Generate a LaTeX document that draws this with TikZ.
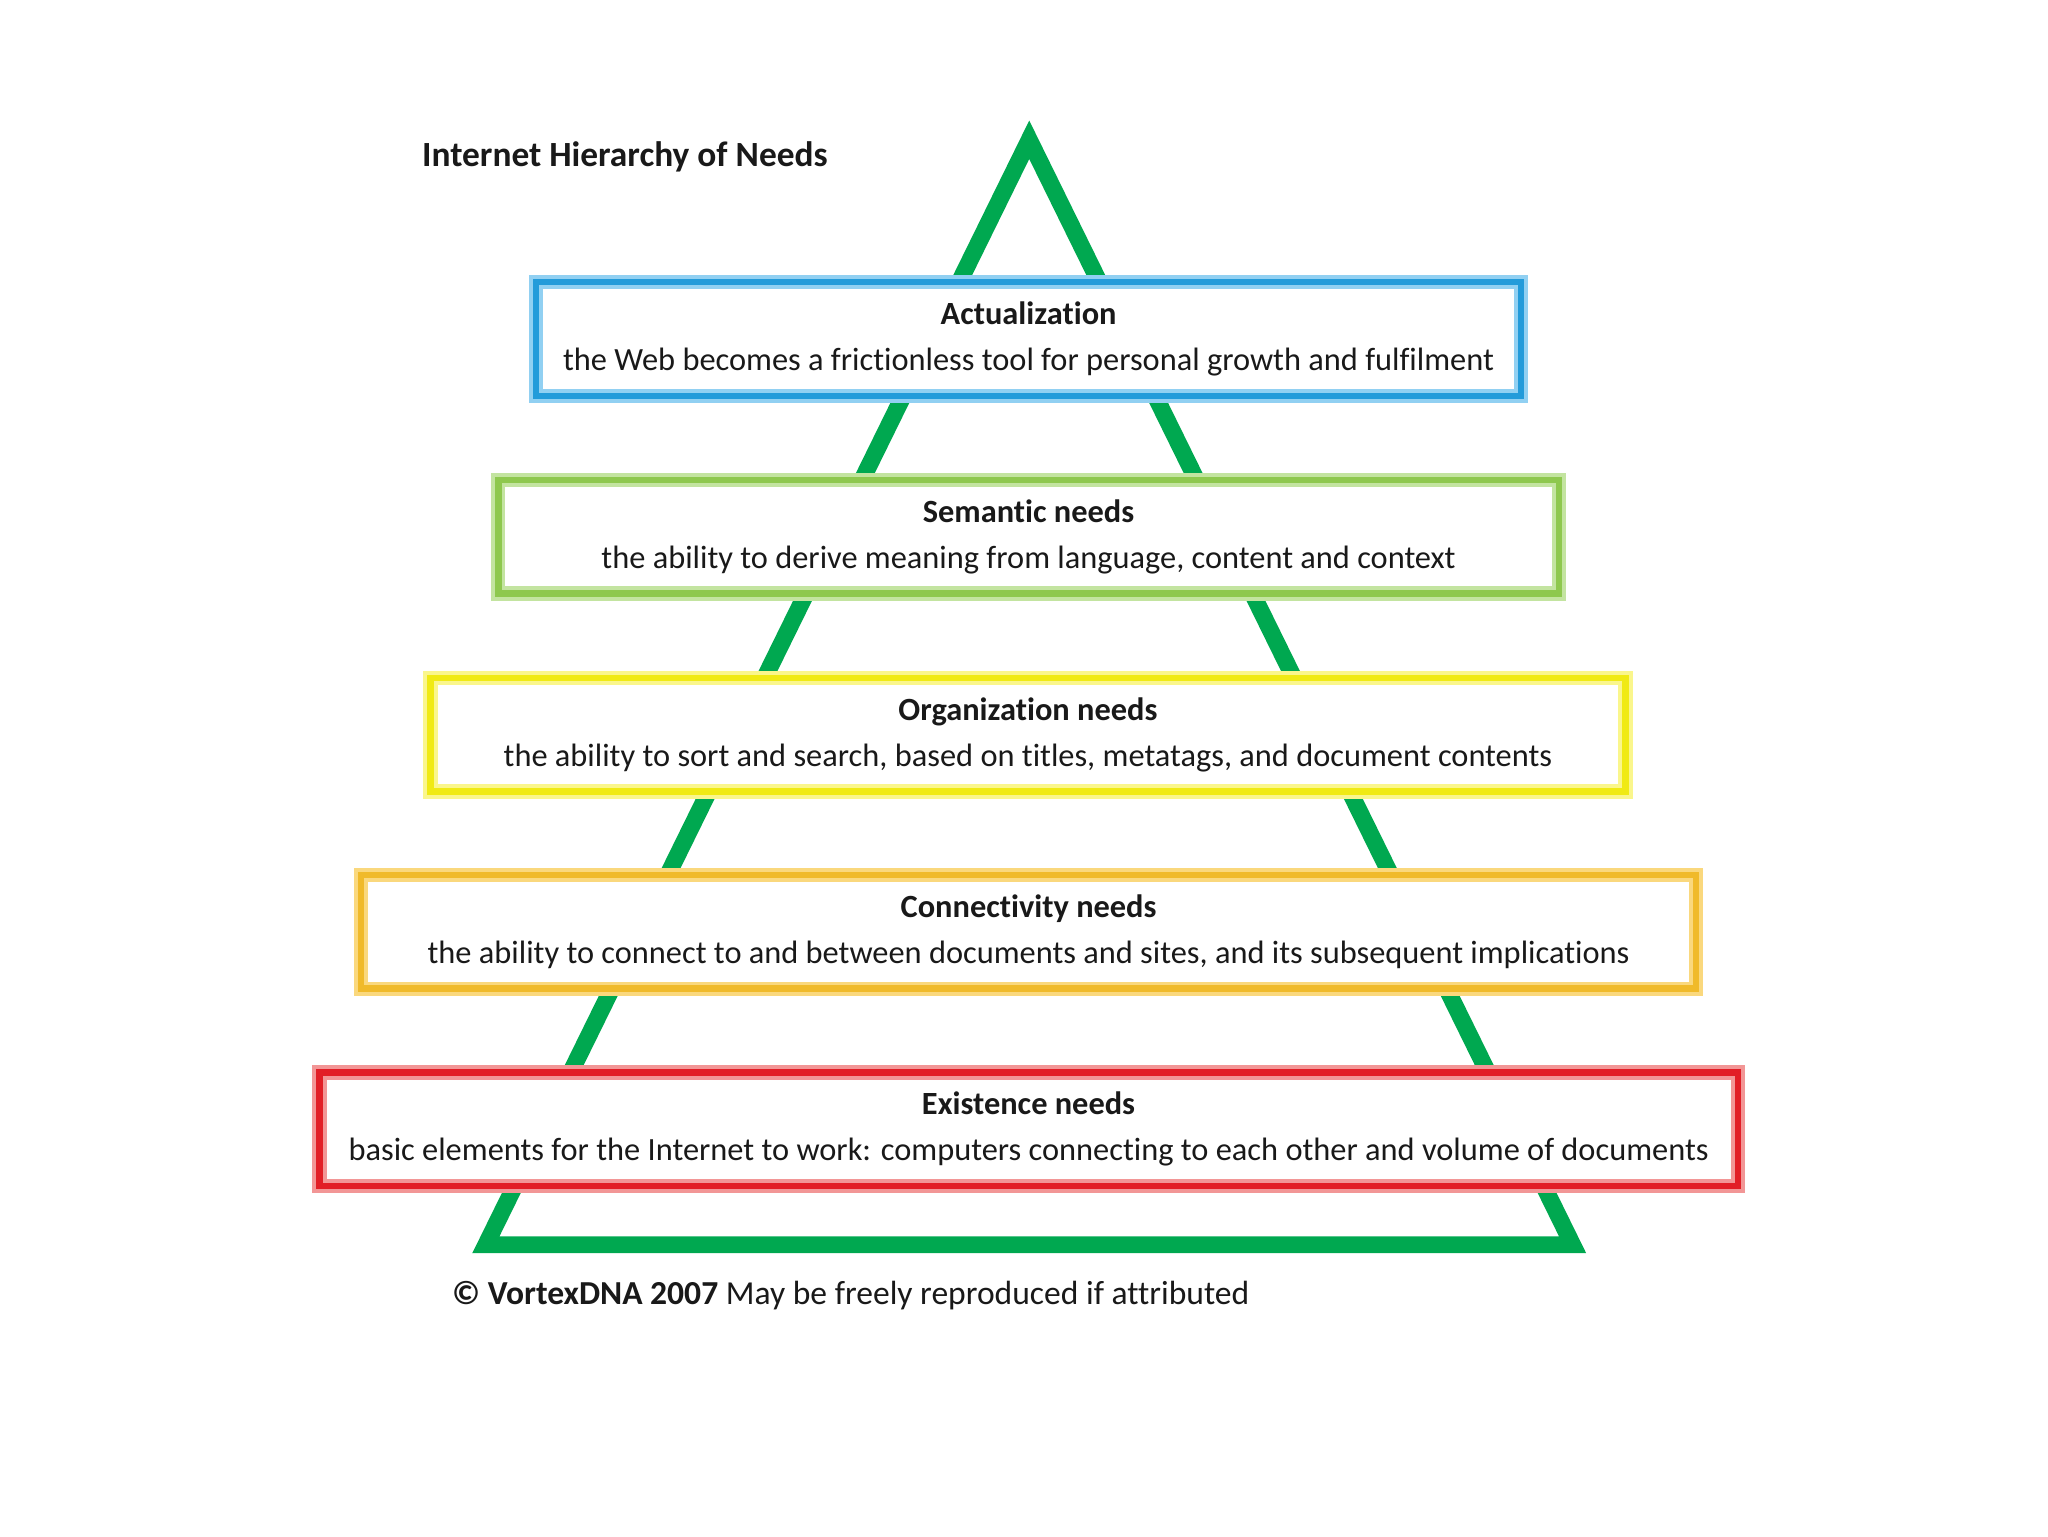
\documentclass[tikz,border=0pt]{standalone}
\usepackage{fontspec}
\setmainfont[Ligatures=NoCommon]{Carlito}
\definecolor{triG}{RGB}{0,168,80}
\definecolor{txt}{RGB}{25,25,25}
\definecolor{blueD}{RGB}{35,155,218}
\definecolor{blueL}{RGB}{145,208,242}
\definecolor{greenD}{RGB}{142,200,78}
\definecolor{greenL}{RGB}{195,228,160}
\definecolor{yellowD}{RGB}{240,234,20}
\definecolor{yellowL}{RGB}{250,246,140}
\definecolor{orangeD}{RGB}{240,186,42}
\definecolor{orangeL}{RGB}{250,216,125}
\definecolor{redD}{RGB}{226,30,38}
\definecolor{redL}{RGB}{242,150,150}
\tikzset{
  tri/.style={draw=triG, line width=13pt, line join=miter},
  needbox/.style 2 args={rectangle, draw=#2, line width=5pt,
    preaction={draw=#1, line width=11pt, fill=white},
    align=center, text=txt, inner sep=0pt,
    font=\fontsize{24.8}{35}\selectfont},
  plain/.style={anchor=west, inner sep=0pt, text=txt}
}
\begin{document}
\begin{tikzpicture}[x=1pt,y=-1pt]
\useasboundingbox (0,0) rectangle (1568,1176);
\fill[white] (0,0) rectangle (1568,1176);
\coordinate (apex) at (788,107);
\coordinate (bl) at (372,953);
\coordinate (br) at (1204,953);
\draw[tri] (apex) -- (bl) -- (br) -- cycle;

\node[needbox={blueL}{blueD}, minimum width=754pt, minimum height=87pt] (act) at (787.5,259.5)
  {\textbf{Actualization}\\the Web becomes a frictionless tool for personal growth and fulfilment};
\node[needbox={greenL}{greenD}, minimum width=812pt, minimum height=87pt] (sem) at (787.5,411)
  {\textbf{Semantic needs}\\the ability to derive meaning from language, content and context};
\node[needbox={yellowL}{yellowD}, minimum width=915pt, minimum height=87pt] (org) at (787,562.5)
  {\textbf{Organization needs}\\the ability to sort and search, based on titles, metatags, and document contents};
\node[needbox={orangeL}{orangeD}, minimum width=1022pt, minimum height=87pt] (con) at (787.5,713.5)
  {\textbf{Connectivity needs}\\the ability to connect to and between documents and sites, and its subsequent implications};
\node[needbox={redL}{redD}, minimum width=1086pt, minimum height=87pt] (ex) at (787.5,864.5)
  {\textbf{Existence needs}\\basic elements for the Internet to work: computers connecting to each other and volume of documents};

\node[plain, font=\bfseries\fontsize{27.1}{30}\selectfont] (title) at (323,120) {Internet Hierarchy of Needs};
\node[plain, font=\fontsize{25.7}{30}\selectfont] (copy) at (346,992) {\textbf{© VortexDNA 2007} May be freely reproduced if attributed};
\end{tikzpicture}
\end{document}
